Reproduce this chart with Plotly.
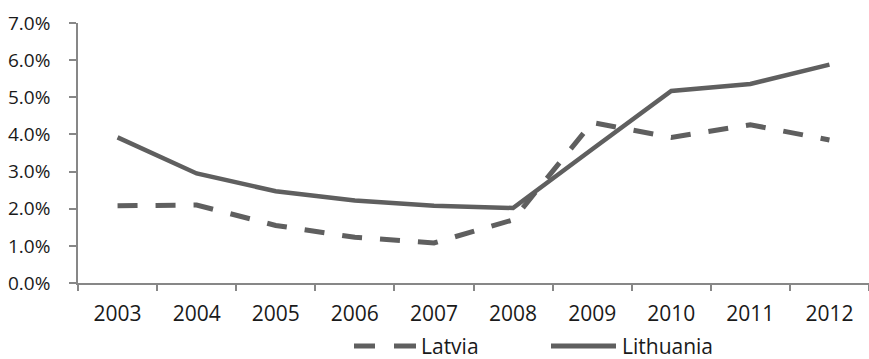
import plotly.graph_objects as go

years = ["2003", "2004", "2005", "2006", "2007", "2008", "2009", "2010", "2011", "2012"]
latvia = [2.08, 2.10, 1.55, 1.23, 1.08, 1.70, 4.32, 3.92, 4.26, 3.85]
lithuania = [3.92, 2.95, 2.47, 2.22, 2.08, 2.02, 3.60, 5.17, 5.36, 5.88]
y_ticks = [0, 1, 2, 3, 4, 5, 6, 7]

LINE = "#5f5f5f"
AXIS = "#878787"
FONT = dict(family="Open Sans, Noto Sans, sans-serif", size=21, color="#1a1a1a")
YFONT = dict(FONT, size=19)

W, H = 869, 359
L, R, T, B = 78, 0, 23, 76

fig = go.Figure()
fig.add_trace(go.Scatter(x=years, y=latvia, mode="lines", name="Latvia",
                         line=dict(color=LINE, width=5, dash="20px,18px"),
                         showlegend=False))
fig.add_trace(go.Scatter(x=years, y=lithuania, mode="lines", name="Lithuania",
                         line=dict(color=LINE, width=4.5),
                         showlegend=False))

fig.update_layout(
    width=W, height=H,
    margin=dict(l=L, r=R, t=T, b=B),
    paper_bgcolor="white", plot_bgcolor="white",
    font=FONT,
)
fig.update_xaxes(
    type="category", tickson="boundaries", ticks="outside", ticklen=6,
    tickcolor=AXIS, tickwidth=1.5, showline=True, linecolor=AXIS, linewidth=1.5,
    showgrid=False, zeroline=False, range=[-0.5, 9.5], tickfont=FONT,
    ticklabelstandoff=11,
)
fig.update_yaxes(
    range=[0, 7], tickvals=y_ticks, ticktext=[f"{v:.1f}%" for v in y_ticks],
    ticks="outside", ticklen=7, tickcolor=AXIS, tickwidth=1.5,
    showline=True, linecolor=AXIS, linewidth=1.5, showgrid=False, zeroline=False,
    tickfont=YFONT, ticklabelstandoff=15,
)

# Legend drawn below the axis: line samples plus labels (pixel -> plot-area paper coords)
def px_x(v):
    return (v - L) / (W - L - R)

def px_y(v):
    return (H - B - v) / (H - T - B)

leg_y = 346
for x0, x1 in [(354, 375), (394, 416)]:
    fig.add_shape(type="line", xref="paper", yref="paper",
                  x0=px_x(x0), x1=px_x(x1), y0=px_y(leg_y), y1=px_y(leg_y),
                  line=dict(color=LINE, width=5))
fig.add_shape(type="line", xref="paper", yref="paper",
              x0=px_x(551), x1=px_x(616), y0=px_y(leg_y), y1=px_y(leg_y),
              line=dict(color=LINE, width=5))
fig.add_annotation(text="Latvia", xref="paper", yref="paper", x=px_x(419), y=px_y(leg_y),
                   xanchor="left", yanchor="middle", showarrow=False, font=FONT)
fig.add_annotation(text="Lithuania", xref="paper", yref="paper", x=px_x(620), y=px_y(leg_y),
                   xanchor="left", yanchor="middle", showarrow=False, font=FONT)

fig.write_html("out.html")
